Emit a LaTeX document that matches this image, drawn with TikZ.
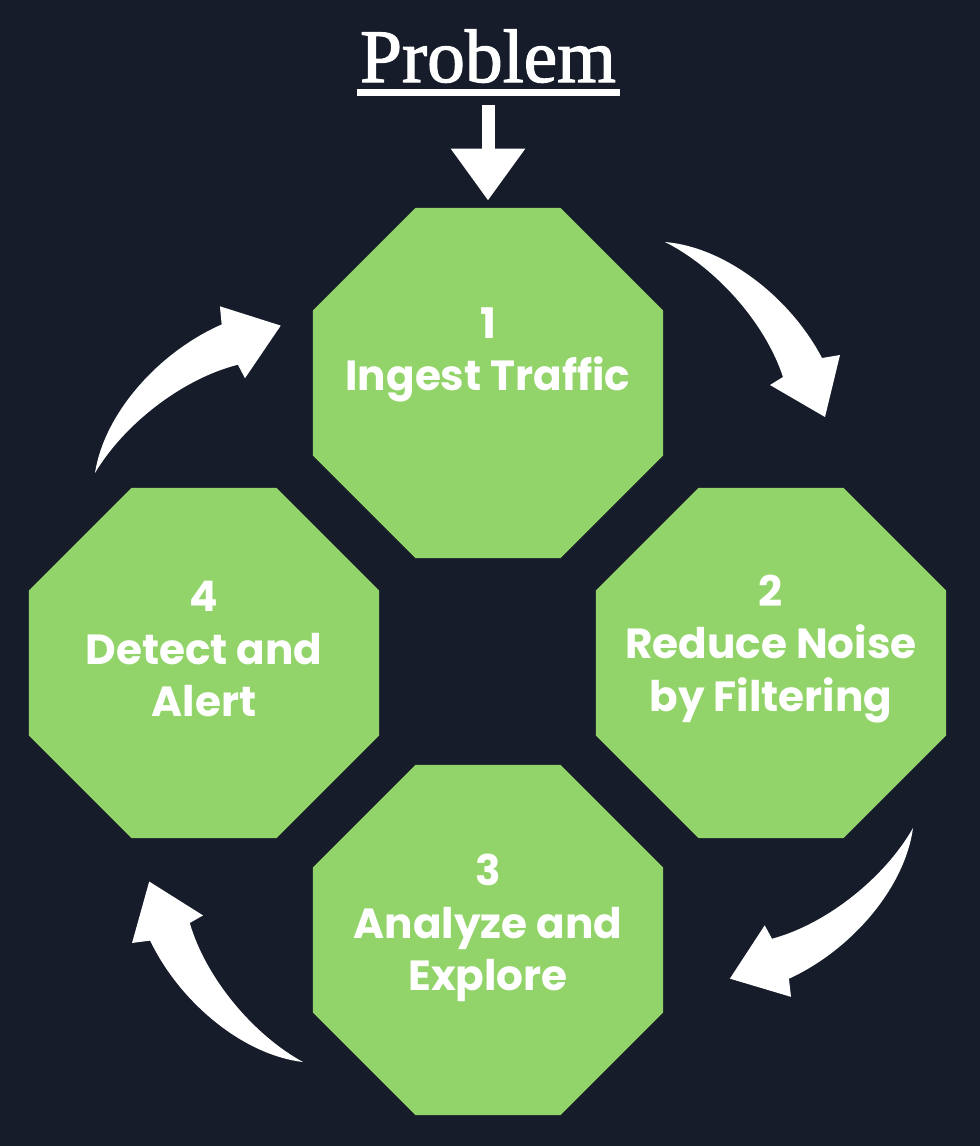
\documentclass[tikz,border=0pt]{standalone}
\usepackage{fontspec}
\setsansfont{Poppins}
\newfontfamily\titlefont[FakeBold=1.6]{Liberation Serif}
\usepackage{tikz}
\usetikzlibrary{shapes.geometric, arrows.meta, calc}
\definecolor{nightnavy}{RGB}{22, 28, 41}
\definecolor{stepgreen}{RGB}{146, 212, 106}

% tapered curved arrow, drawn from its thin tail
\tikzset{
    bendarrow/.pic={
        \fill[white] (0,0) .. controls (60,5) and (125,55) .. (157,116)
            -- (175,113) -- (160,175) -- (105,143) -- (118,135)
            .. controls (100,80) and (50,25) .. cycle;
    }
}

\begin{document}
\begin{tikzpicture}[
    x=0.02cm, y=-0.02cm,
    stepoct/.style={regular polygon, regular polygon sides=8, fill=stepgreen, minimum size=7.58cm, inner sep=0pt},
    steplabel/.style={text=white, align=center, inner sep=0pt, font=\sffamily\bfseries\fontsize{24}{30}\selectfont},
    downarrow/.style={white, line width=0.26cm, -{Triangle[length=1.04cm, width=1.42cm]}, shorten >=0.14cm}
]
% Background
\fill[nightnavy] (0,0) rectangle (980,1146);

% Title
\node[text=white, font=\titlefont\fontsize{43}{50}\selectfont, inner sep=0pt, anchor=base] (problem) at (488,82) {Problem};
\draw[white, line width=0.14cm] ($(problem.base west)+(-3,10)$) -- ($(problem.base east)+(4,10)$);

% Steps
\node[stepoct] (ingest) at (488,383) {};
\node[stepoct] (reduce) at (771,663) {};
\node[stepoct] (analyze) at (488,940) {};
\node[stepoct] (detect) at (204,663) {};

\node[steplabel] (ingesttext) at ([yshift=0.56cm]ingest.center) {1\\Ingest Traffic};
\node[steplabel] (reducetext) at ([yshift=0.28cm]reduce.center) {2\\Reduce Noise\\by Filtering};
\node[steplabel] (analyzetext) at ([yshift=0.24cm]analyze.center) {3\\Analyze and\\Explore};
\node[steplabel] (detecttext) at ([yshift=0.28cm]detect.center) {4\\Detect and\\Alert};

% Entry arrow
\draw[downarrow] ($(problem.base)+(0,23)$) -- (ingest.north);

% Cycle arrows
\pic at (665,242) {bendarrow};
\pic[rotate=-93] at (913,828) {bendarrow};
\pic[rotate=-182] at (303,1062) {bendarrow};
\pic[rotate=-274] at (95,473) {bendarrow};
\end{tikzpicture}
\end{document}
